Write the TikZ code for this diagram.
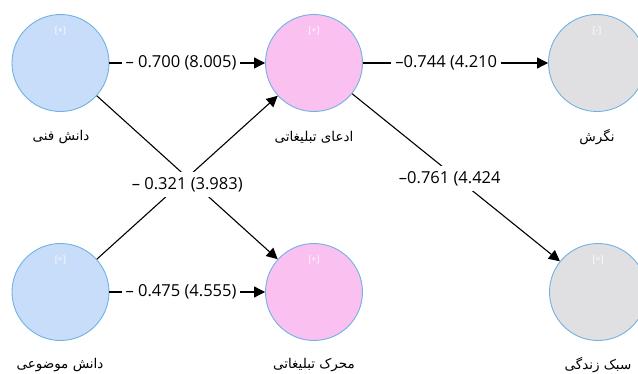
\documentclass[tikz,border=0pt]{standalone}
\usepackage{fontspec}
\usetikzlibrary{arrows.meta}
\TeXXeTstate=1
\newfontfamily\numfont{Open Sans}
\newfontfamily\fafont[Script=Arabic]{DejaVu Sans}
\definecolor{lvblue}{RGB}{199,221,250}
\definecolor{lvpink}{RGB}{250,192,240}
\definecolor{lvgrey}{RGB}{224,224,226}
\definecolor{rimblue}{RGB}{112,178,226}
\begin{document}
\begin{tikzpicture}[x=1pt,y=-1pt,
  latent/.style={circle,draw=rimblue,line width=0.9pt,minimum size=97pt,inner sep=0pt},
  tag/.style={text=white,font=\numfont\fontsize{9}{10}\selectfont,inner sep=0pt},
  cname/.style={font=\fafont\fontsize{13.5}{15}\selectfont,inner sep=1pt},
  coef/.style={fill=white,font=\numfont\fontsize{16.5}{19}\selectfont,inner xsep=4pt,inner ysep=5pt},
  path/.style={line width=1.1pt,-{Triangle[length=11pt,width=11pt]}}
]
\useasboundingbox[fill=white] (0,0) rectangle (638,374);

% latent variables
\node[latent,fill=lvblue] (fanni) at (60.5,63) {};
\node[latent,fill=lvpink] (edea) at (314,63) {};
\node[latent,fill=lvgrey] (negaresh) at (597,63) {};
\node[latent,fill=lvblue] (mowzui) at (60.5,292) {};
\node[latent,fill=lvpink] (moharrek) at (314,292) {};
\node[latent,fill=lvgrey] (sabk) at (598,292) {};

% small indicator tags
\node[tag] (t1) at (60.5,31) {[+]};
\node[tag] (t2) at (314,31) {[+]};
\node[tag] (t3) at (597,31) {[-]};
\node[tag] (t4) at (60.5,260) {[=]};
\node[tag] (t5) at (314,260) {[+]};
\node[tag] (t6) at (598,260) {[=]};

% construct names
\node[cname] (n1) at (61,137) {\beginR دانش فنی\endR};
\node[cname] (n2) at (314,137) {\beginR ادعای تبلیغاتی\endR};
\node[cname] (n3) at (597,137) {\beginR نگرش\endR};
\node[cname] (n4) at (60,365) {\beginR دانش موضوعی\endR};
\node[cname] (n5) at (314,365) {\beginR محرک تبلیغاتی\endR};
\node[cname] (n6) at (598,365) {\beginR سبک زندگی\endR};

% structural paths
\draw[path] (fanni) -- node[coef,pos=0.46] {– 0.700 (8.005)} (edea);
\draw[path] (edea) -- node[coef,pos=0.45] {–0.744 (4.210} (negaresh);
\draw[path] (mowzui) -- node[coef,pos=0.46] {– 0.475 (4.555)} (moharrek);
\draw[path] (mowzui) -- (edea);
\draw[path] (fanni) -- node[coef,pos=0.5,yshift=-7pt] {– 0.321 (3.983)} (moharrek);
\draw[path] (edea) -- node[coef,pos=0.47,yshift=-6pt] {–0.761 (4.424} (sabk);
\end{tikzpicture}
\end{document}
